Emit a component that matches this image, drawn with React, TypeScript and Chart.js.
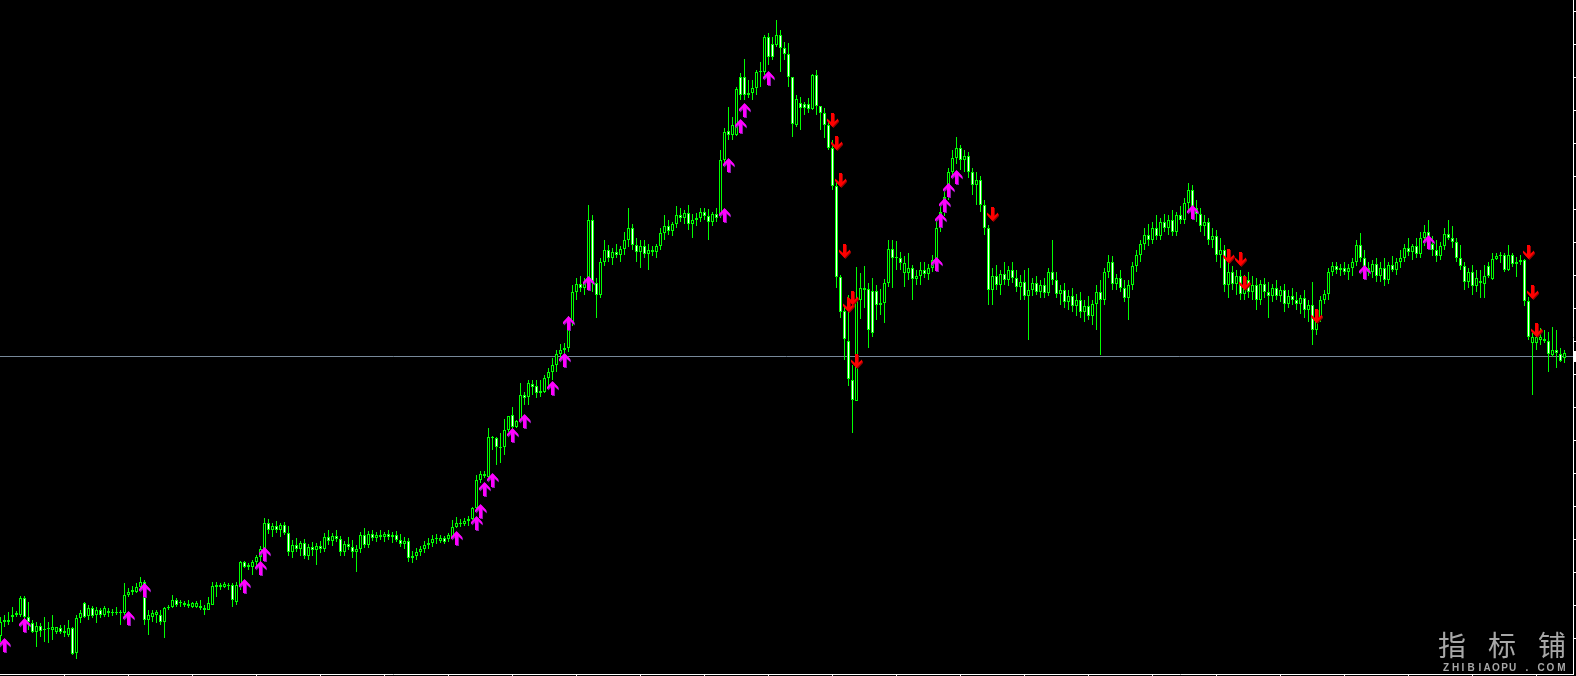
import React, { useEffect, useRef } from 'react';
import { Chart, registerables } from 'chart.js';
Chart.register(...registerables);

// OHLC quotes, one per bar (price units), oldest first
const open = [
364,378,380,383,385,385,402,383,377,368,
374,370,371,370,368,372,367,365,372,347,
382,397,384,392,385,390,385,387,387,388,
387,387,405,408,408,413,418,380,383,385,
385,378,392,393,400,397,397,394,393,393,
392,390,390,395,413,413,413,414,415,398,
415,438,433,433,438,443,451,477,470,474,
470,475,467,448,455,451,457,444,453,450,
454,451,463,459,464,461,448,456,453,448,
451,465,455,466,462,465,463,466,463,465,
460,456,459,442,444,448,451,455,457,461,
459,462,461,463,473,477,476,479,481,492,
520,526,523,563,562,553,553,570,585,573,
579,605,603,616,614,607,608,622,628,635,
646,650,652,678,708,716,712,715,780,717,
705,738,750,742,748,745,751,760,772,755,
748,754,746,750,748,754,767,774,769,776,
785,782,787,776,780,782,788,784,778,786,
785,840,869,865,865,923,923,907,907,912,
928,928,963,956,955,965,952,946,923,875,
897,896,896,891,925,894,887,875,852,814,
723,689,659,620,599,700,710,711,709,709,
695,697,717,751,742,742,727,727,732,721,
724,730,726,732,738,772,788,803,828,842,
852,840,844,828,815,820,795,772,710,724,
715,726,720,730,722,713,718,704,710,717,
708,715,707,728,720,706,710,698,704,694,
700,688,694,684,696,708,700,728,738,716,
722,712,702,715,734,745,756,765,760,772,
764,778,772,780,768,785,780,797,810,792,
786,774,778,760,764,745,750,715,728,716,
724,706,720,708,715,700,716,708,704,712,
704,710,696,704,700,696,702,690,695,670,
682,700,706,728,734,730,732,728,732,738,
755,742,732,728,736,724,732,720,735,730,
738,742,752,748,754,746,762,768,756,750,
744,754,766,762,758,742,734,718,728,714,
717,716,734,721,741,744,745,730,745,736,
738,740,699,657,657,660,659,659,645,650,
646,642];

const high = [
383,385,388,393,389,404,404,398,380,378,
377,383,378,385,373,375,375,380,373,385,
390,398,395,394,393,392,394,392,391,393,
390,417,412,414,417,423,420,390,390,390,
390,393,395,405,402,400,399,400,398,399,
400,395,403,418,418,417,418,417,417,418,
439,439,437,440,445,454,482,481,477,479,
477,478,474,460,462,459,461,456,458,457,
459,467,470,467,470,464,459,463,460,455,
468,472,469,470,468,470,468,470,468,469,
466,463,462,449,452,454,459,462,465,466,
465,464,467,480,483,481,482,484,493,525,
529,529,572,564,563,567,581,584,593,580,
617,608,620,620,620,620,625,632,642,650,
656,657,684,715,722,724,722,795,785,722,
742,760,755,752,756,754,768,792,776,762,
760,760,756,754,756,772,785,780,778,794,
792,790,795,786,787,792,792,791,788,792,
850,872,893,883,913,927,941,920,920,930,
938,965,967,963,980,970,958,957,923,905,
903,898,902,926,930,894,892,880,860,820,
725,695,705,635,733,727,734,717,722,715,
711,721,760,760,759,748,744,747,735,730,
738,738,736,745,780,795,808,832,850,863,
855,850,848,832,828,824,800,775,732,735,
730,738,734,738,730,725,730,732,722,724,
720,722,732,760,728,715,717,710,712,706,
708,700,704,700,715,720,732,745,744,726,
730,720,720,738,750,760,772,776,778,785,
782,786,785,790,788,794,802,817,815,800,
792,785,782,772,770,762,755,738,734,730,
730,725,728,724,722,720,722,718,716,720,
714,716,710,712,708,705,710,700,718,690,
704,710,732,738,738,736,738,736,742,760,
767,750,738,740,742,738,742,738,744,742,
750,756,762,756,762,768,775,780,764,760,
758,772,780,774,762,755,738,732,735,730,
730,735,738,747,747,748,747,755,747,743,
745,741,703,667,670,672,670,668,673,670,
652,650];

const low = [
358,373,375,378,383,383,377,370,367,353,
363,358,357,360,366,366,363,363,345,341,
377,382,380,382,377,382,383,383,384,385,
375,385,403,405,407,412,375,365,378,377,
375,362,390,392,393,393,393,392,392,392,
390,385,390,395,403,410,412,410,393,395,
410,432,430,425,433,438,448,466,463,467,
463,465,444,442,448,444,441,440,444,435,
447,448,455,454,458,444,444,450,442,428,
447,452,452,459,458,460,458,460,457,458,
453,451,438,437,440,444,447,451,453,456,
457,456,458,462,472,473,474,474,480,488,
517,522,522,550,535,537,545,568,568,572,
577,595,595,605,602,603,607,610,620,628,
638,644,648,674,700,708,705,710,708,682,
702,734,738,735,742,738,745,753,750,738,
732,742,730,744,742,750,760,765,764,772,
778,776,770,762,774,778,780,760,774,778,
782,837,860,860,864,900,900,902,900,905,
913,925,935,940,953,928,940,913,863,873,
870,885,887,890,885,870,862,850,810,712,
682,640,614,567,599,681,692,652,663,680,
685,677,713,712,730,730,713,720,700,715,
715,722,720,728,734,768,784,800,822,836,
830,828,822,805,795,788,765,695,695,710,
705,715,714,717,708,700,700,660,704,705,
702,702,704,715,702,695,692,690,688,684,
682,678,680,675,670,645,695,722,710,710,
708,698,680,710,728,738,750,754,756,760,
760,768,765,764,764,776,776,790,786,778,
768,764,755,752,738,732,708,702,710,705,
700,700,702,700,690,695,702,682,698,700,
698,688,692,695,690,686,682,678,655,665,
678,696,700,724,726,724,725,720,724,734,
738,728,724,722,718,718,714,716,728,725,
732,738,744,740,742,742,754,752,744,738,
740,750,760,752,738,730,710,712,705,708,
702,702,722,720,740,737,728,729,733,723,
735,694,660,605,650,655,657,628,643,632,
638,637];

const close = [
378,380,378,385,387,402,383,378,368,374,
369,371,372,373,373,368,369,372,346,382,
387,383,392,384,390,385,392,389,388,387,
388,405,408,410,413,418,380,385,387,388,
378,392,393,400,395,398,395,396,397,397,
394,392,397,414,415,415,416,415,400,415,
438,433,435,438,443,451,477,470,474,470,
475,467,448,455,451,457,444,453,450,454,
451,463,459,464,461,448,456,453,448,451,
465,455,466,462,465,463,466,463,465,460,
456,459,442,444,448,451,455,457,461,462,
462,458,465,473,477,476,479,481,492,520,
526,524,563,562,553,552,570,584,573,579,
605,602,617,613,607,609,622,628,635,646,
650,652,678,708,716,712,718,780,717,705,
738,750,742,748,745,751,760,772,755,748,
754,746,750,748,754,767,774,769,776,785,
782,787,776,780,782,788,784,778,786,782,
840,868,865,875,911,905,905,905,912,928,
928,963,943,943,965,952,946,923,876,901,
892,892,891,925,894,887,875,852,814,723,
688,661,621,600,700,712,712,670,667,695,
697,717,751,742,742,737,737,732,721,724,
730,726,732,740,772,788,803,828,842,852,
840,844,828,815,820,795,772,710,724,715,
726,720,730,722,713,718,704,710,717,708,
715,707,728,720,706,710,698,704,694,700,
688,694,684,696,708,700,728,738,716,722,
712,702,715,734,745,756,765,760,772,764,
778,772,780,768,785,780,797,810,792,786,
774,778,760,764,745,750,715,728,716,724,
706,720,708,715,700,716,708,704,712,704,
710,696,704,700,696,702,690,695,670,682,
700,706,728,734,730,732,728,732,738,755,
742,732,728,736,724,732,720,735,730,738,
742,752,748,754,746,762,768,756,750,744,
754,766,762,758,742,734,718,728,714,722,
719,724,724,741,744,745,730,745,736,738,
740,699,663,663,663,663,661,646,650,647,
639,647];

// indicator signals: bar index and price level of each arrow
const upArrowBar = [1,6,32,36,61,65,66,114,119,120,121,123,128,131,138,141,142,147,181,182,185,186,192,234,235,236,237,239,298,341,357];
const upArrowPrice = [355,375,382,410,414,432,446,462,477,489,511,520,565,579,612,640,677,717,785,835,874,890,922,736,780,795,810,823,788,728,758];
const downArrowBar = [208,209,210,211,212,213,214,248,307,310,311,329,382,383,384];
const downArrowPrice = [880,857,820,749,695,702,639,786,744,741,717,684,748,708,670];

const currentPrice = 644;
const priceMin = 326;
const priceMax = 1000;
const watermark = ['指', '标', '铺'];
const watermarkSub = 'ZHIBIAOPU.COM';

function makeArrow(color: string, shade: string, up: boolean): HTMLCanvasElement {
  const c = document.createElement('canvas');
  c.width = 13;
  c.height = 16;
  const ctx = c.getContext('2d')!;
  const pts = [[5.5, 0], [11, 6], [11, 8.5], [7, 5], [7, 14], [4, 14], [4, 5], [0, 8.5], [0, 6]];
  const draw = (dx: number, dy: number, col: string) => {
    ctx.beginPath();
    pts.forEach(([x, y], k) => {
      const yy = up ? y : 14 - y;
      if (k === 0) ctx.moveTo(x + dx, yy + dy);
      else ctx.lineTo(x + dx, yy + dy);
    });
    ctx.closePath();
    ctx.fillStyle = col;
    ctx.fill();
  };
  draw(2, 2, shade);
  draw(1, 1, color);
  return c;
}

const chromePlugin = {
  id: 'mt4chrome',
  beforeDatasetsDraw(chart: any) {
    const { ctx, chartArea, scales } = chart;
    const y = Math.round(scales.y.getPixelForValue(currentPrice)) + 0.5;
    ctx.save();
    ctx.strokeStyle = '#778899';
    ctx.lineWidth = 1;
    ctx.beginPath();
    ctx.moveTo(chartArea.left, y);
    ctx.lineTo(chartArea.right, y);
    ctx.stroke();
    ctx.restore();
  },
  afterDraw(chart: any) {
    const { ctx, chartArea } = chart;
    const r = chartArea.right;
    const b = chartArea.bottom;
    ctx.save();
    ctx.strokeStyle = '#ffffff';
    ctx.lineWidth = 1;
    ctx.beginPath();
    ctx.moveTo(r + 0.5, 0);
    ctx.lineTo(r + 0.5, b + 1);
    ctx.moveTo(0, b + 0.5);
    ctx.lineTo(r + 1, b + 0.5);
    for (let k = 0; k < 20; k++) {
      const ty = 11 + 33 * k + 0.5;
      ctx.moveTo(r + 1, ty);
      ctx.lineTo(r + 4, ty);
    }
    for (let k = 1; k <= 24; k++) {
      const tx = 64 * k + 0.5;
      ctx.moveTo(tx, b + 1);
      ctx.lineTo(tx, b + 3);
    }
    ctx.stroke();
    ctx.fillStyle = '#ffffff';
    const py = Math.round(chart.scales.y.getPixelForValue(currentPrice));
    ctx.fillRect(r + 1, py - 5, 3, 11);

    // watermark
    ctx.fillStyle = '#a8a8a8';
    ctx.font = '400 28px "Noto Sans CJK SC"';
    ctx.textAlign = 'center';
    ctx.textBaseline = 'middle';
    const cx = [1452, 1502, 1552];
    watermark.forEach((ch, k) => ctx.fillText(ch, cx[k], 645));
    ctx.font = 'bold 10px "Liberation Sans"';
    ctx.textBaseline = 'alphabetic';
    const sx = [1446, 1455.5, 1463, 1471, 1480, 1487, 1496, 1504.5, 1512.5, 1527, 1541, 1550.5, 1561.5];
    watermarkSub.split('').forEach((ch, k) => ctx.fillText(ch, sx[k], 671));
    ctx.restore();
  },
};

export default function App() {
  const ref = useRef<HTMLCanvasElement>(null);
  useEffect(() => {
    const canvas = ref.current!;
    const bodies = open.map((o, i) => ({ x: i, y: [Math.min(o, close[i]), Math.max(o, close[i])] }));
    const bodyFill = open.map((o, i) => (close[i] >= o ? '#000000' : '#ffffff'));
    const wicks = open.map((_, i) => ({ x: i, y: [low[i], high[i]] }));
    const ups = upArrowBar.map((b, k) => ({ x: b, y: upArrowPrice[k] }));
    const downs = downArrowBar.map((b, k) => ({ x: b, y: downArrowPrice[k] }));
    const upImg = makeArrow('#ff00ff', '#8a1aa8', true);
    const downImg = makeArrow('#ff0000', '#9a0000', false);

    const chart = new Chart(canvas, {
      type: 'bar',
      data: {
        datasets: [
          { type: 'scatter', data: ups, pointStyle: upImg, pointRadius: 6, order: 0 } as any,
          { type: 'scatter', data: downs, pointStyle: downImg, pointRadius: 6, order: 0 } as any,
          {
            type: 'bar', data: bodies, backgroundColor: bodyFill, borderColor: '#00ff00', borderWidth: 1,
            barThickness: 3, grouped: false, order: 1, minBarLength: 1, borderSkipped: false, inflateAmount: 0,
          } as any,
          {
            type: 'bar', data: wicks, backgroundColor: '#00ff00', borderWidth: 0,
            barThickness: 1, grouped: false, order: 2, inflateAmount: 0,
          } as any,
        ],
      },
      options: {
        responsive: false,
        animation: false,
        devicePixelRatio: 1,
        events: [],
        layout: { autoPadding: false, padding: { left: 0, top: 0, right: 3, bottom: 2 } },
        scales: {
          x: { type: 'linear', min: -0.125, max: 393.125, display: false, offset: false },
          y: { type: 'linear', min: priceMin, max: priceMax, display: false },
        },
        plugins: { legend: { display: false }, tooltip: { enabled: false } },
      } as any,
      plugins: [chromePlugin],
    });
    return () => chart.destroy();
  }, []);
  return (
    <div style={{ position: 'fixed', left: 0, top: 0, width: 1576, height: 676, background: '#000', overflow: 'hidden' }}>
      <canvas ref={ref} width={1576} height={676} style={{ display: 'block', width: 1576, height: 676 }} />
    </div>
  );
}
